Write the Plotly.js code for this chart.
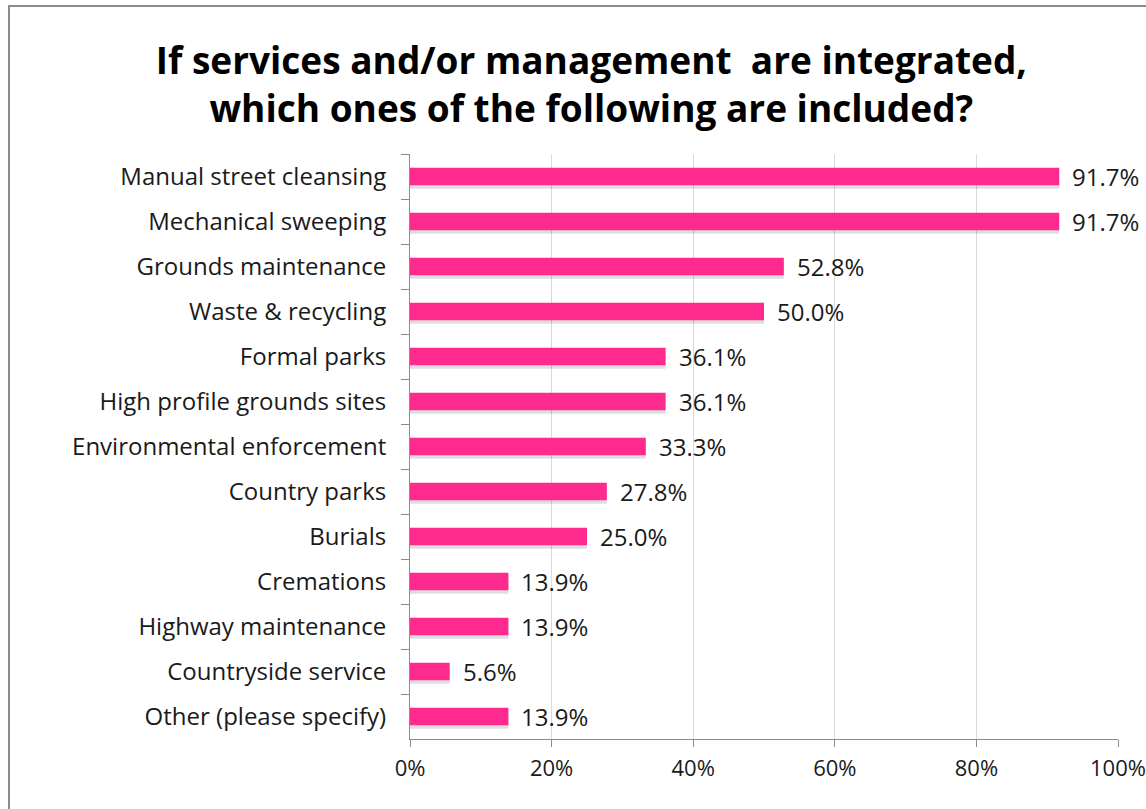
<!DOCTYPE html>
<html>
<head>
<meta charset="utf-8">
<script src="https://cdn.plot.ly/plotly-3.0.1.min.js"></script>
<style>
  html, body { margin: 0; padding: 0; background: #fff; }
  #wrap { position: relative; width: 1146px; height: 809px; overflow: hidden; }
  #frame { position: absolute; left: 8px; top: 5px; width: 1200px; height: 900px;
           border-left: 2px solid #8c8c8c; border-top: 2px solid #8c8c8c; pointer-events: none; }
  #chart { position: absolute; left: 0; top: 0; width: 1146px; height: 809px; }
</style>
</head>
<body>
<div id="wrap">
  <div id="chart"></div>
  <div id="frame"></div>
</div>
<script>
const categories = [
  "Manual street cleansing",
  "Mechanical sweeping",
  "Grounds maintenance",
  "Waste & recycling",
  "Formal parks",
  "High profile grounds sites",
  "Environmental enforcement",
  "Country parks",
  "Burials",
  "Cremations",
  "Highway maintenance",
  "Countryside service",
  "Other (please specify)"
];
const values = [91.7, 91.7, 52.8, 50.0, 36.1, 36.1, 33.3, 27.8, 25.0, 13.9, 13.9, 5.6, 13.9];
const xTickVals = [0, 20, 40, 60, 80, 100];
const xTickText = ["0%", "20%", "40%", "60%", "80%", "100%"];
const titleText = "If services and/or management  are integrated,<br>which ones of the following are included?";

const barColor = "#ff2a8e";
const font = "'Open Sans', 'Noto Sans', sans-serif";

const shadow = {
  type: "bar", orientation: "h", x: values, y: categories,
  width: 0.39, offset: -0.12,
  marker: { color: "rgba(0,0,0,0.13)" },
  hoverinfo: "skip", showlegend: false
};
const bars = {
  type: "bar", orientation: "h", x: values, y: categories,
  width: 0.39, offset: -0.195,
  marker: { color: barColor },
  showlegend: false
};

const annotations = values.map((v, i) => ({
  x: v, y: categories[i], xref: "x", yref: "y",
  text: v.toFixed(1) + "%", showarrow: false,
  xanchor: "left", yanchor: "middle", xshift: 11,
  font: { family: font, size: 24, color: "#1a1a1a" }
}));

const layout = {
  width: 1146, height: 809,
  margin: { l: 410, r: 28, t: 154, b: 70, pad: 0 },
  paper_bgcolor: "rgba(0,0,0,0)", plot_bgcolor: "#fff",
  barmode: "overlay",
  title: {
    text: titleText,
    font: { family: "'Open Sans', sans-serif", size: 37, color: "#000", weight: "bold" },
    xref: "container", x: 0.516, xanchor: "center",
    yref: "container", y: 0.909, yanchor: "top"
  },
  xaxis: {
    range: [0, 100], tickvals: xTickVals, ticktext: xTickText,
    showgrid: true, gridcolor: "#d9d9d9", gridwidth: 1,
    showline: true, linecolor: "#8c8c8c", linewidth: 1,
    ticks: "outside", ticklen: 7, tickcolor: "#8c8c8c",
    zeroline: false,
    tickfont: { family: font, size: 22, color: "#1a1a1a" },
    ticklabelstandoff: 3,
    fixedrange: true
  },
  yaxis: {
    type: "category", categoryorder: "array", categoryarray: categories,
    autorange: "reversed",
    showline: true, linecolor: "#8c8c8c", linewidth: 1,
    ticks: "outside", ticklen: 8, tickcolor: "#8c8c8c", tickson: "boundaries",
    showgrid: false, zeroline: false,
    tickfont: { family: font, size: 24, color: "#1a1a1a" },
    ticklabelstandoff: 18,
    fixedrange: true
  },
  annotations: annotations,
  font: { family: font }
};

Plotly.newPlot("chart", [shadow, bars], layout, { displayModeBar: false, staticPlot: true });
</script>
</body>
</html>
